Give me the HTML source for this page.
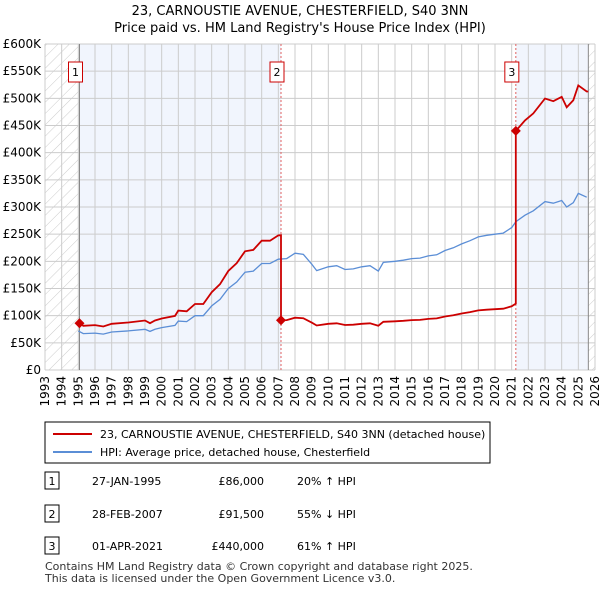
<!DOCTYPE html>
<html><head><meta charset="utf-8"><style>
body{margin:0;background:#fff;font-family:"Liberation Sans","DejaVu Sans",sans-serif;}
svg text{font-family:"DejaVu Sans","Liberation Sans",sans-serif;}
</style></head><body>
<svg id="c" width="600" height="590" xmlns="http://www.w3.org/2000/svg">
<defs><pattern id="hatch" width="8" height="8" patternUnits="userSpaceOnUse" patternTransform="rotate(45)"><line x1="0" y1="0" x2="0" y2="8" stroke="#ccc" stroke-width="1"/></pattern></defs>
<text x="300" y="15" text-anchor="middle" font-size="13">23, CARNOUSTIE AVENUE, CHESTERFIELD, S40 3NN</text>
<text x="300" y="32" text-anchor="middle" font-size="13">Price paid vs. HM Land Registry's House Price Index (HPI)</text>
<g id="plot"></g>
<g>
<rect x="45" y="422" width="445" height="41" fill="#fff" stroke="#000" stroke-width="1"/>
<line x1="53" y1="434" x2="92" y2="434" stroke="#cc0000" stroke-width="2"/>
<text x="100" y="438" font-size="11">23, CARNOUSTIE AVENUE, CHESTERFIELD, S40 3NN (detached house)</text>
<line x1="53" y1="452" x2="92" y2="452" stroke="#5b8ed6" stroke-width="2"/>
<text x="100" y="456" font-size="11">HPI: Average price, detached house, Chesterfield</text>
</g>
<g id="table" font-size="11"></g>
<text x="45" y="570" font-size="11" fill="#333">Contains HM Land Registry data © Crown copyright and database right 2025.</text>
<text x="45" y="582" font-size="11" fill="#333">This data is licensed under the Open Government Licence v3.0.</text>
</svg>
<script>
const hpiYears=[1995.0,1995.3,1996,1996.5,1997,1998,1999,1999.3,1999.6,2000,2000.8,2001,2001.5,2002,2002.5,2003,2003.5,2004,2004.5,2005,2005.5,2006,2006.5,2007,2007.5,2008,2008.5,2009,2009.3,2010,2010.5,2011,2011.5,2012,2012.5,2013,2013.3,2014,2014.5,2015,2015.5,2016,2016.5,2017,2017.5,2018,2018.5,2019,2019.5,2020,2020.5,2021,2021.25,2021.8,2022.3,2023,2023.5,2024,2024.3,2024.7,2025,2025.5];
const hpiValues=[72,67,68,66,70,72,75,71,75,78,82,90,89,100,100,118,130,150,162,180,182,196,196,204,205,215,213,195,183,190,192,185,186,190,192,182,198,200,202,205,206,210,212,220,225,232,238,245,248,250,252,262,273,285,293,310,307,312,300,308,325,318];
const saleDates=[1995.07,2007.16,2021.25];
const saleLabels=["1","2","3"];
const salePrices=[86,91.5,440];
const saleDateText=["27-JAN-1995","28-FEB-2007","01-APR-2021"];
const salePriceText=["£86,000","£91,500","£440,000"];
const saleHpiText=["20% ↑ HPI","55% ↓ HPI","61% ↑ HPI"];
const yTicks=[0,50,100,150,200,250,300,350,400,450,500,550,600];
const xYears=[];for(let y=1993;y<=2026;y++)xYears.push(y);
const endYear=2025.6;

const X0=45,X1=595,Y0=370,Y1=44;
const xs=t=>X0+(t-1993)/(2026-1993)*(X1-X0);
const ys=v=>Y0-v/600*(Y0-Y1);
const NS="http://www.w3.org/2000/svg";
const plot=document.getElementById('plot');
function mk(tag,attrs,parent){const e=document.createElementNS(NS,tag);for(const k in attrs)e.setAttribute(k,attrs[k]);(parent||plot).appendChild(e);return e;}
function hpiAt(t){if(t<=hpiYears[0])return hpiValues[0];for(let i=1;i<hpiYears.length;i++){if(t<=hpiYears[i]){const f=(t-hpiYears[i-1])/(hpiYears[i]-hpiYears[i-1]);return hpiValues[i-1]+f*(hpiValues[i]-hpiValues[i-1]);}}return hpiValues[hpiValues.length-1];}

let r;
r=mk('rect',{x:X0,y:Y1,width:xs(1995.07)-X0,height:Y0-Y1,fill:'url(#hatch)'});

r=mk('rect',{x:xs(endYear),y:Y1,width:X1-xs(endYear),height:Y0-Y1,fill:'url(#hatch)'});

r=mk('rect',{x:xs(saleDates[0]),y:Y1,width:xs(saleDates[1])-xs(saleDates[0]),height:Y0-Y1,fill:'#eef3fc',opacity:0.8});

r=mk('rect',{x:xs(saleDates[2]),y:Y1,width:xs(endYear)-xs(saleDates[2]),height:Y0-Y1,fill:'#eef3fc',opacity:0.8});


yTicks.forEach(v=>{
 const l=mk('line',{x1:X0,x2:X1,y1:ys(v),y2:ys(v),stroke:'#ccc','stroke-width':1});
 
 const t=mk('text',{x:X0-4,y:ys(v)+4,'text-anchor':'end','font-size':12});
 t.textContent=v===0?'£0':'£'+v+'K';
 
});
xYears.forEach(y=>{
 const l=mk('line',{x1:xs(y),x2:xs(y),y1:Y1,y2:Y0,stroke:'#ccc','stroke-width':1});
 
 const t=mk('text',{x:0,y:0,'font-size':12,'text-anchor':'end',transform:`translate(${xs(y)+4},${Y0+6}) rotate(-90)`});
 t.textContent=y;
 
});
r=mk('line',{x1:xs(1995.07),x2:xs(1995.07),y1:Y1,y2:Y0,stroke:'#888','stroke-width':1});

r=mk('line',{x1:xs(endYear),x2:xs(endYear),y1:Y1,y2:Y0,stroke:'#888','stroke-width':1});

saleDates.forEach((d,i)=>{
 if(i===0)return;
 const l=mk('line',{x1:xs(d),x2:xs(d),y1:Y1,y2:Y0,stroke:'#e06060','stroke-width':1,'stroke-dasharray':'2,2'});
 
});

let pts=hpiYears.map((t,i)=>xs(t).toFixed(1)+','+ys(hpiValues[i]).toFixed(1)).join(' ');
r=mk('polyline',{points:pts,fill:'none',stroke:'#5b8ed6','stroke-width':1.3});


let ppts=[];
saleDates.forEach((d,i)=>{
 const end=i<saleDates.length-1?saleDates[i+1]:endYear;
 const ratio=salePrices[i]/hpiAt(d);
 ppts.push([d,salePrices[i]]);
 hpiYears.forEach((t,j)=>{if(t>d&&t<end)ppts.push([t,hpiValues[j]*ratio]);});
 ppts.push([end,hpiAt(end)*ratio]);
});
r=mk('polyline',{points:ppts.map(p=>xs(p[0]).toFixed(1)+','+ys(p[1]).toFixed(1)).join(' '),fill:'none',stroke:'#cc0000','stroke-width':1.8});


saleDates.forEach((d,i)=>{
 const cx=xs(d),cy=ys(salePrices[i]);
 const p=mk('path',{d:`M${cx},${cy-5}L${cx+5},${cy}L${cx},${cy+5}L${cx-5},${cy}Z`,fill:'#cc0000'});
 
 const b=mk('rect',{x:cx-11,y:62,width:14,height:20,fill:'#fff',stroke:'#cc0000','stroke-width':1});
 
 const t=mk('text',{x:cx-4,y:76,'text-anchor':'middle','font-size':11});
 t.textContent=saleLabels[i];
 
});

const tbl=document.getElementById('table');
const rowY=[481,514,546];
saleLabels.forEach((s,i)=>{
 const y=rowY[i];
 const b=mk('rect',{x:45,y:y-9,width:14,height:17,fill:'#fff',stroke:'#000','stroke-width':1},tbl);
 
 let t=mk('text',{x:52,y:y+4,'text-anchor':'middle'},tbl);t.textContent=s;
 
 t=mk('text',{x:92,y:y+4},tbl);t.textContent=saleDateText[i];
 
 t=mk('text',{x:264,y:y+4,'text-anchor':'end'},tbl);t.textContent=salePriceText[i];
 
 t=mk('text',{x:297,y:y+4},tbl);t.textContent=saleHpiText[i];
 
});
</script>
</body></html>
